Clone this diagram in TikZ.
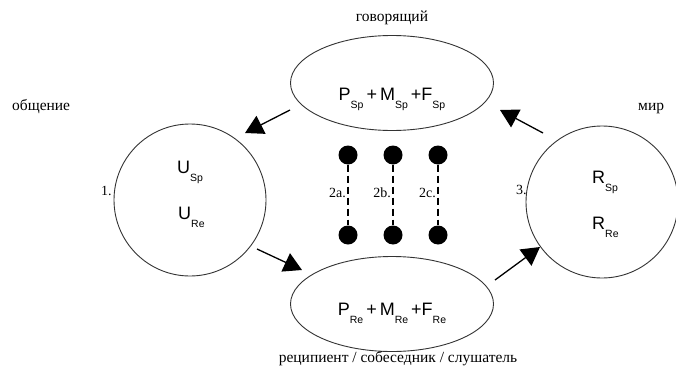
\documentclass[tikz,border=0pt]{standalone}
\usepackage{fontspec}
\setmainfont{Liberation Serif}
\newfontfamily\arial{Liberation Sans}
\usetikzlibrary{shapes.geometric,arrows.meta}
\newcommand{\myb}[2]{#1\raisebox{-8pt}{\fontsize{10.5}{11}\selectfont #2}}
\tikzset{
  shp/.style={draw=black!80, line width=0.9pt},
  ell/.style={shp, ellipse, minimum width=203pt, minimum height=95pt, inner sep=0pt},
  circ/.style={shp, circle, minimum size=152pt, inner sep=0pt},
  lbl/.style={font=\fontsize{15.5}{16}\selectfont, inner sep=0pt},
  num/.style={font=\fontsize{14}{15}\selectfont, inner sep=0pt},
  dot/.style={circle, fill=black, minimum size=19pt, inner sep=0pt},
  dsh/.style={line width=1.8pt, dash pattern=on 7pt off 4pt},
  arr/.style={line width=1.3pt, -{Triangle[length=18pt,width=20pt]}},
  frm/.style={inner sep=0pt, anchor=base, font=\arial\fontsize{18}{19}\selectfont}
}
\begin{document}
\begin{tikzpicture}[x=1pt,y=-1pt]
\useasboundingbox (0,0) rectangle (676,369);
% shapes
\node[ell] (top) at (392,83) {};
\node[ell] (bot) at (392,304) {};
\node[circ] (left) at (190,200) {};
\node[circ] (right) at (602,202) {};
% formulas
\node[frm] (ftop) at (392,100) {\myb{P}{Sp}\,+\,\myb{M}{Sp}\,+\myb{F}{Sp}};
\node[frm] (fbot) at (392,315) {\myb{P}{Re}\,+\,\myb{M}{Re}\,+\myb{F}{Re}};
\node[frm, anchor=base west] (usp) at (177,173) {\myb{U}{Sp}};
\node[frm, anchor=base west] (ure) at (178,219) {\myb{U}{Re}};
\node[frm, anchor=base west] (rsp) at (592,183) {\myb{R}{Sp}};
\node[frm, anchor=base west] (rre) at (592,229) {\myb{R}{Re}};
% labels
\node[lbl, anchor=base] (speaker) at (392,22) {говорящий};
\node[lbl, anchor=base west] (comm) at (12,110) {общение};
\node[lbl, anchor=base west] (world) at (638,110) {мир};
\node[lbl, anchor=base] (recip) at (398,362) {реципиент / собеседник / слушатель};
\node[num, anchor=base west] (n1) at (101,195) {1.};
\node[num, anchor=base west] (n3) at (516,194) {3.};
% dots
\foreach \x/\n in {348/a,393/b,438/c}{
  \node[dot] (t\n) at (\x,155) {};
  \node[dot] (b\n) at (\x,235) {};
  \draw[dsh] (t\n) -- (b\n);
  \node[num, anchor=base east] (l\n) at (\x-2,197) {2\n.};
}
% arrows
\coordinate (a1s) at (290,110); \coordinate (a1e) at (245,133);
\coordinate (a2s) at (257,249); \coordinate (a2e) at (302,270);
\coordinate (a3s) at (495,280); \coordinate (a3e) at (540,247);
\coordinate (a4s) at (543,133); \coordinate (a4e) at (500,110);
\draw[arr] (a1s) -- (a1e);
\draw[arr] (a2s) -- (a2e);
\draw[arr] (a3s) -- (a3e);
\draw[arr] (a4s) -- (a4e);
\end{tikzpicture}
\end{document}
